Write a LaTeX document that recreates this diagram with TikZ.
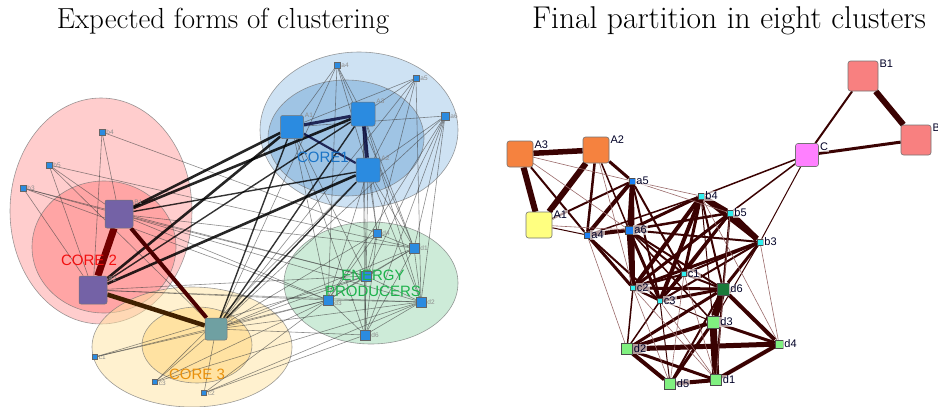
\documentclass[tikz,border=0pt]{standalone}
\usepackage{fontspec}
\newfontfamily\labfont{Liberation Sans}
\pgfdeclarelayer{ellipses}
\pgfdeclarelayer{edges}
\pgfsetlayers{ellipses,edges,main}
\definecolor{eblueO}{HTML}{9EC5E7}
\definecolor{eblueI}{HTML}{71A6D5}
\definecolor{eredO}{HTML}{FF9B9B}
\definecolor{eredI}{HTML}{FF7F7F}
\definecolor{eyelO}{HTML}{FFE39F}
\definecolor{eyelI}{HTML}{FFD577}
\definecolor{egrn}{HTML}{9BD7B1}
\definecolor{nblue}{HTML}{2B8BE0}
\definecolor{npurp}{HTML}{7462A6}
\definecolor{nteal}{HTML}{6FA0A2}
\definecolor{tblue}{HTML}{1A74C6}
\definecolor{tred}{HTML}{F21010}
\definecolor{torange}{HTML}{E8900C}
\definecolor{tgreen}{HTML}{1DB24C}
\definecolor{redge}{HTML}{3A0202}
\definecolor{rlight}{HTML}{9A6A6A}
\definecolor{rorange}{HTML}{F5823F}
\definecolor{ryellow}{HTML}{FFFF80}
\definecolor{rblue}{HTML}{1A80F5}
\definecolor{rcyan}{HTML}{30F0F0}
\definecolor{rdgreen}{HTML}{1A7A3A}
\definecolor{rlgreen}{HTML}{80F080}
\definecolor{rpink}{HTML}{FF80FF}
\definecolor{rsalmon}{HTML}{F88080}
\begin{document}
\begin{tikzpicture}[x=1pt,y=-1pt,
  ell/.style={draw=black!55, draw opacity=0.7, line width=0.6pt, fill opacity=0.5},
  lbig/.style={draw=black!55, rounded corners=2pt, inner sep=0pt, line width=0.5pt},
  lsm/.style={draw=black!60, fill=nblue, inner sep=0pt, line width=0.4pt},
  llab/.style={font=\labfont\fontsize{6.5}{7}\selectfont, text=black!45, inner sep=1pt},
  clab/.style={font=\labfont\fontsize{15}{17}\selectfont, align=center, inner sep=0pt},
  thk/.style={line width=2.6pt, black, draw opacity=0.85},
  med/.style={line width=1.4pt, black, draw opacity=0.8},
  thn/.style={line width=0.6pt, black!75, draw opacity=0.6},
  rbig/.style={draw=black!55, rounded corners=2.5pt, inner sep=0pt, line width=0.6pt},
  rsm/.style={draw=black!70, inner sep=0pt, line width=0.5pt},
  rlab/.style={font=\labfont\fontsize{11}{12}\selectfont, text=black!85!blue, inner sep=1pt, fill=white, fill opacity=0.6, text opacity=1},
  re/.style={draw=redge, line width=#1},
  rl/.style={draw=rlight, line width=0.6pt},
]
\useasboundingbox (0,0) rectangle (938,407);

% ---------------- titles
\node[font=\fontsize{29}{33}\selectfont] (t1) at (223,21) {Expected forms of clustering};
\node[font=\fontsize{31.5}{35}\selectfont] (t2) at (729,21) {Final partition in eight clusters};

% ---------------- left ellipses
\begin{pgfonlayer}{ellipses}
\path[ell, fill=eblueO] (359,130) ellipse [x radius=99pt, y radius=78pt];
\path[ell, fill=eblueI] (346,138) ellipse [x radius=78pt, y radius=58pt];
\path[ell, fill=egrn] (371,283) ellipse [x radius=87pt, y radius=61pt];
\path[ell, fill=eredO] (101,211) ellipse [x radius=91pt, y radius=113pt];
\path[ell, fill=eredI] (104,247) ellipse [x radius=72pt, y radius=66pt];
\path[ell, fill=eyelO] (192,347) ellipse [x radius=100pt, y radius=60pt];
\path[ell, fill=eyelI] (197,345) ellipse [x radius=55pt, y radius=38pt];
\end{pgfonlayer}

% ---------------- left nodes
\node[lbig, fill=nblue, minimum size=23pt, label={[llab,anchor=west]north east:A1}] (LA1) at (292,127) {};
\node[lbig, fill=nblue, minimum size=24pt, label={[llab,anchor=west]north east:A3}] (LA3) at (363,114) {};
\node[lbig, fill=nblue, minimum size=24pt, label={[llab,anchor=west]north east:A2}] (LA2) at (368,170) {};
\node[lsm, minimum size=6pt, label={[llab]right:a4}] (La4) at (337,65) {};
\node[lsm, minimum size=6pt, label={[llab]right:a5}] (La5) at (416,78) {};
\node[lsm, minimum size=8pt, label={[llab]right:a6}] (La6) at (445,116) {};
\node[lsm, minimum size=6pt, label={[llab]right:b4}] (Lb4) at (102,132) {};
\node[lsm, minimum size=6pt, label={[llab]right:b5}] (Lb5) at (49,165) {};
\node[lsm, minimum size=6pt, label={[llab]right:b3}] (Lb3) at (23,188) {};
\node[lbig, fill=npurp, minimum size=28pt, label={[llab,anchor=west,yshift=-3pt]north east:B1}] (LB1) at (119,214) {};
\node[lbig, fill=npurp, minimum size=28pt, label={[llab,anchor=west,yshift=-3pt]north east:B2}] (LB2) at (93,290) {};
\node[lbig, fill=nteal, minimum size=22pt, label={[llab,anchor=west,yshift=-3pt]north east:C}] (LC) at (216,329) {};
\node[lsm, minimum size=5pt, label={[llab]right:c1}] (Lc1) at (95,357) {};
\node[lsm, minimum size=5pt, label={[llab,yshift=-1pt]right:c3}] (Lc3) at (155,382) {};
\node[lsm, minimum size=5pt, label={[llab]right:c2}] (Lc2) at (204,393) {};
\node[lsm, minimum size=8pt, label={[llab]right:d4}] (Ld4) at (377,233) {};
\node[lsm, minimum size=10pt, label={[llab]right:d1}] (Ld1) at (414,248) {};
\node[lsm, minimum size=10pt] (Ld5) at (366,276) {};
\node[lsm, minimum size=10pt, label={[llab,yshift=-3pt]right:d3}] (Ld3) at (328,300) {};
\node[lsm, minimum size=10pt, label={[llab]right:d2}] (Ld2) at (421,302) {};
\node[lsm, minimum size=10pt, label={[llab]right:d6}] (Ld6) at (365,335) {};

% ---------------- left edges
\begin{pgfonlayer}{edges}
\foreach \a/\b in {La4/LA1,La4/LA3,La4/LA2,La4/Ld1,La4/Ld3,La5/LA1,La5/LA3,La5/LA2,La5/Ld2,La5/Ld4,
  La6/LA1,La6/LA2,La6/Ld1,La6/Ld2,La6/Ld6,La6/Ld3,La6/Ld5,
  LA3/Ld4,LA3/Ld1,LA3/Ld2,LA3/Ld6,LA3/Ld5,LA2/Ld4,LA2/Ld1,LA2/Ld2,LA2/Ld6,LA2/Ld3,LA1/Ld3,LA1/Ld5,LA1/Ld6,
  LB1/Ld1,LB1/Ld2,LB1/Ld3,LB1/Ld5,LB2/Ld3,LB2/Ld5,LB2/Ld2,
  Lb4/LB1,Lb4/LB2,Lb4/Ld4,Lb5/LB1,Lb5/LB2,Lb5/Ld1,Lb5/LC,Lb3/LB1,Lb3/LB2,Lb3/Ld3,Lb3/Ld5,
  LC/Ld4,LC/Ld1,LC/Ld2,LC/Ld3,LC/Ld5,LC/Ld6,LC/La4,LC/La5,LC/La6,LC/Lc1,LC/Lc2,LC/Lc3,
  Lc1/Ld3,Lc1/Ld5,Lc3/Ld3,Lc3/Ld2,Lc2/Ld2,Lc2/Ld6,Lc2/Ld3,Lc3/LA2,
  Ld4/Ld1,Ld4/Ld3,Ld4/Ld6,Ld1/Ld2,Ld1/Ld3,Ld1/Ld6,Ld2/Ld3,Ld2/Ld6,Ld3/Ld6,Ld5/Ld1,Ld5/Ld2,Ld5/Ld3,Ld5/Ld6,Ld5/Ld4}
  {\draw[thn] (\a) -- (\b);}
\draw[thk] (LA1) -- (LB1);
\draw[thk] (LA3) -- (LB1);
\draw[med] (LA2) -- (LB1);
\draw[thk] (LA1) -- (LB2);
\draw[med] (LA3) -- (LB2);
\draw[thk] (LA2) -- (LB2);
\draw[med] (LA1) -- (LC);
\draw[med] (LA3) -- (LC);
\draw[med] (LA2) -- (LC);
\draw[line width=3pt, black!80!blue, draw opacity=0.8] (LA1) -- (LA3);
\draw[line width=4pt, black!80!blue, draw opacity=0.8] (LA3) -- (LA2);
\draw[line width=2.2pt, black!80!blue, draw opacity=0.8] (LA1) -- (LA2);
\draw[line width=7pt, black!55!red] (LB1) -- (LB2);
\draw[line width=4pt, black!70!red] (LB1) -- (LC);
\draw[line width=4.5pt, black!75!orange] (LB2) -- (LC);
\end{pgfonlayer}

% cluster labels
\node[clab, text=tblue] (k1) at (323,157) {CORE1};
\node[clab, text=tred] (k2) at (89,260) {CORE 2};
\node[clab, text=torange] (k3) at (197,374) {CORE 3};
\node[clab, text=tgreen] (k4) at (373,283) {ENERGY\\[-1pt]PRODUCERS};

% ---------------- right nodes
\node[rbig, fill=rorange, minimum size=26pt, label={[rlab,anchor=west,yshift=-4pt]north east:A3}] (RA3) at (520,154) {};
\node[rbig, fill=rorange, minimum size=26pt, label={[rlab,anchor=west,yshift=-3pt]north east:A2}] (RA2) at (596,150) {};
\node[rbig, fill=ryellow, minimum size=26pt, label={[rlab,anchor=west,yshift=-3pt]north east:A1}] (RA1) at (539,225) {};
\node[rsm, fill=rblue, minimum size=6pt, label={[rlab]right:a5}] (Ra5) at (632,181) {};
\node[rsm, fill=rblue, minimum size=8pt, label={[rlab]right:a6}] (Ra6) at (629,230) {};
\node[rsm, fill=rblue, minimum size=6pt, label={[rlab]right:a4}] (Ra4) at (587,235) {};
\node[rsm, fill=rcyan, minimum size=6pt, label={[rlab]right:b4}] (Rb4) at (701,196) {};
\node[rsm, fill=rcyan, minimum size=6pt, label={[rlab]right:b5}] (Rb5) at (730,213) {};
\node[rsm, fill=rcyan, minimum size=6pt, label={[rlab]right:b3}] (Rb3) at (760,242) {};
\node[rsm, fill=rcyan, minimum size=5pt, label={[rlab]right:c1}] (Rc1) at (684,274) {};
\node[rsm, fill=rcyan, minimum size=5pt, label={[rlab]right:c2}] (Rc2) at (633,288) {};
\node[rsm, fill=rcyan, minimum size=5pt, label={[rlab]right:c3}] (Rc3) at (660,301) {};
\node[rsm, fill=rdgreen, minimum size=12pt, label={[rlab]right:d6}] (Rd6) at (723,289) {};
\node[rsm, fill=rlgreen, minimum size=12pt, label={[rlab]right:d3}] (Rd3) at (713,322) {};
\node[rsm, fill=rlgreen, minimum size=8pt, label={[rlab]right:d4}] (Rd4) at (779,344) {};
\node[rsm, fill=rlgreen, minimum size=11pt, label={[rlab]right:d2}] (Rd2) at (627,349) {};
\node[rsm, fill=rlgreen, minimum size=11pt, label={[rlab]right:d5}] (Rd5) at (670,384) {};
\node[rsm, fill=rlgreen, minimum size=11pt, label={[rlab]right:d1}] (Rd1) at (716,380) {};
\node[rbig, fill=rpink, minimum size=23pt, label={[rlab,anchor=west,yshift=-4pt]north east:C}] (RC) at (807,155) {};
\node[rbig, fill=rsalmon, minimum size=30pt, label={[rlab,anchor=west,yshift=-3pt]north east:B1}] (RB1) at (863,76) {};
\node[rbig, fill=rsalmon, minimum size=30pt, label={[rlab,anchor=west,yshift=-3pt]north east:B2}] (RB2) at (916,140) {};

% ---------------- right edges
\begin{pgfonlayer}{edges}
\foreach \a/\b/\w in {RA3/RA2/5.5,RA3/RA1/6,RA2/RA1/6,RA2/Ra5/3,RA2/Ra4/2.5,RA3/Ra4/2,RA1/Ra5/2,RA2/Ra6/1.5,RA1/Ra4/1,
  Ra5/Ra6/4,Ra5/Ra4/4,Ra4/Ra6/4,Ra5/Rc2/4,Ra6/Rc2/5,Ra6/Rb4/3,Ra6/Rb5/2.5,Ra6/Rb3/2,Ra4/Rc2/3,Ra4/Rc3/2,Ra4/Rb4/1.5,
  Ra5/Rc1/2,Ra5/Rc3/2,Ra6/Rc1/2,Ra6/Rc3/3,Ra6/Rd6/2,Ra6/Rd3/1.5,
  Rb4/Rb5/5,Rb5/Rb3/6,Rb4/Rb3/4,Rb4/Rc2/4,Rb4/Rc3/4,Rb4/Rc1/3,Rb4/Rd6/2,Rb4/Rd3/1,Rb5/Rc2/3,Rb5/Rc3/3,Rb5/Rc1/2,Rb5/Rd6/2,
  Rb3/Rc2/3,Rb3/Rc3/2,Rb3/Rc1/2,Rb3/Rd6/3,Rb3/Rd3/1,
  Rc1/Rc2/2,Rc2/Rc3/2,Rc1/Rc3/2,Rc1/Rd6/2,Rc2/Rd6/3,Rc3/Rd6/3,Rc2/Rd2/1.5,Rc2/Rd3/1,Rc3/Rd5/1,Rc3/Rd2/1.5,
  Rd6/Rd3/7,Rd6/Rd4/4,Rd3/Rd4/3,Rd3/Rd2/4,Rd3/Rd1/7,Rd3/Rd5/3,Rd2/Rd4/5,Rd2/Rd5/4,Rd2/Rd1/3,Rd5/Rd1/4,Rd1/Rd4/4,
  Rd6/Rd2/3,Rd6/Rd5/2,Rd6/Rd1/2,
  RC/Rb4/1.5,RC/Rb5/1.5,RC/Rb3/1,RC/RB1/2,RC/RB2/3,RB1/RB2/6}
  {\draw[re=\w pt] (\a) -- (\b);}
\foreach \a/\b in {RA3/Ra5,RA3/Ra6,RA1/Ra6,Ra5/Rb4,Ra5/Rb5,Rb3/Rd4,Rc3/Rd1,Rc2/Rd5,Rc1/Rd5,Rc1/Rd1,RA2/Rc2,Ra4/Rd2,Rc2/Rd1,Rb4/Rd4,Rb5/Rd1}
  {\draw[rl] (\a) -- (\b);}
\end{pgfonlayer}
\end{tikzpicture}
\end{document}
